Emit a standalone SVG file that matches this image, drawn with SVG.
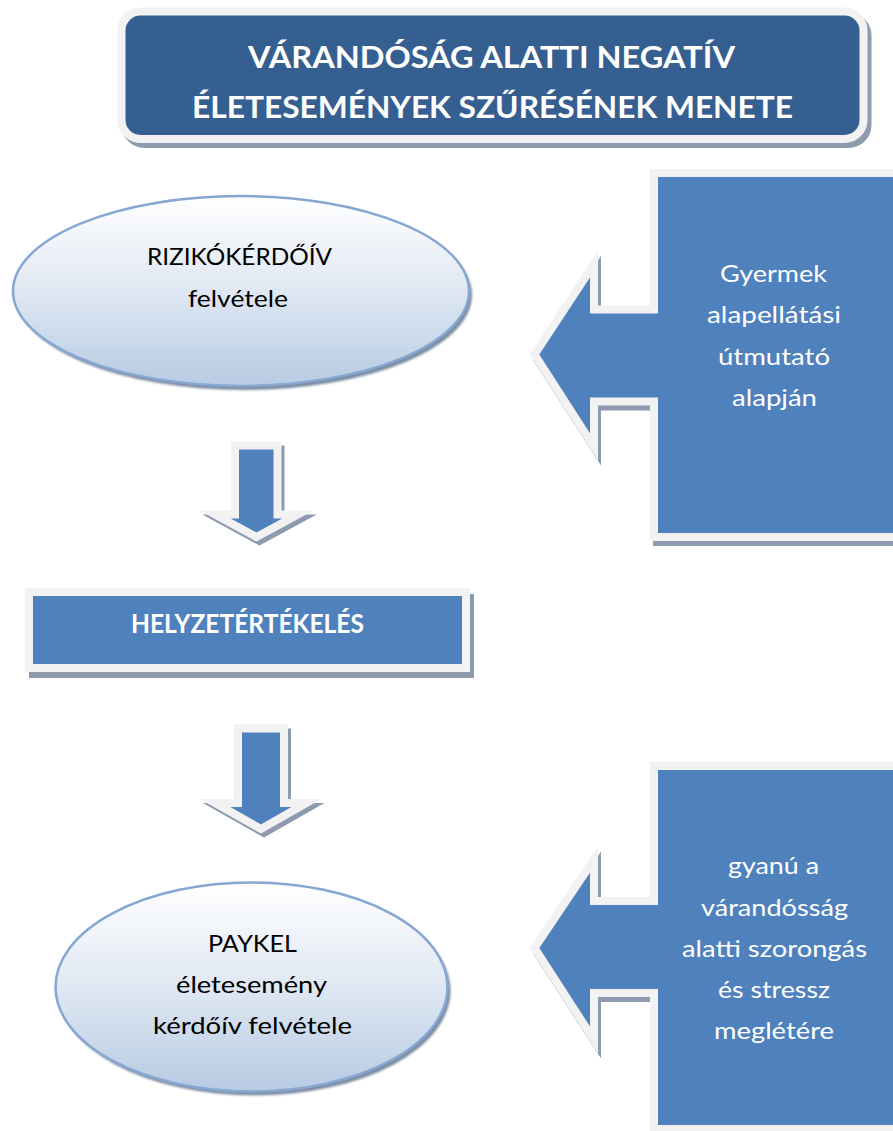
<svg xmlns="http://www.w3.org/2000/svg" width="893" height="1131" viewBox="0 0 893 1131">
<defs>
<linearGradient id="ellGrad" x1="0" y1="0" x2="0" y2="1">
<stop offset="0" stop-color="#FFFFFF"/>
<stop offset="0.45" stop-color="#E3EAF4"/>
<stop offset="1" stop-color="#B7CBE3"/>
</linearGradient>
<filter id="soft" x="-10%" y="-10%" width="120%" height="120%">
<feGaussianBlur stdDeviation="1.2"/>
</filter>
</defs>
<style>
.shadow{fill:#8E9BAE;stroke:#8E9BAE;stroke-width:8;stroke-linejoin:miter;stroke-miterlimit:10}
.blue{fill:#4F81BD;stroke:#F2F2F2;stroke-width:8;stroke-linejoin:miter;stroke-miterlimit:10}
.title{fill:#365F91;stroke:#F2F2F2;stroke-width:8}
.ell{fill:url(#ellGrad);stroke:#86A7D2;stroke-width:2.5}
.ellsh{fill:#7D8DA3;filter:url(#soft)}
.tw{font-family:Lato,"Liberation Sans",sans-serif;fill:#FFFFFF;text-anchor:middle}
.tb{font-family:Lato,"Liberation Sans",sans-serif;fill:#000000;text-anchor:middle}
.bold{font-weight:bold}
</style>

<g id="title">
<rect class="shadow" x="125.5" y="16.5" width="742" height="127.5" rx="19"/>
<rect class="title" x="121.5" y="11.5" width="742" height="127.5" rx="19"/>
<text class="tw bold" font-size="30" x="491.5" y="68" textLength="487" lengthAdjust="spacingAndGlyphs">VÁRANDÓSÁG ALATTI NEGATÍV</text>
<text class="tw bold" font-size="30" x="492.5" y="118" textLength="601" lengthAdjust="spacingAndGlyphs">ÉLETESEMÉNYEK SZŰRÉSÉNEK MENETE</text>
</g>

<g id="node-rizikokerdoiv">
<ellipse class="ellsh" cx="244" cy="295" rx="228" ry="95"/>
<ellipse class="ell" cx="241" cy="291" rx="228" ry="95"/>
<text class="tb" font-size="24" x="239.5" y="265" textLength="185" lengthAdjust="spacingAndGlyphs">RIZIKÓKÉRDŐÍV</text>
<text class="tb" font-size="24" x="238" y="307" textLength="100" lengthAdjust="spacingAndGlyphs">felvétele</text>
</g>

<g id="node-gyermek">
<path class="shadow" transform="translate(3,5)" d="M654,173 L900,173 L900,537 L654,537 L654,401.5 L594,401.5 L594,447 L534.5,354.5 L594,264 L594,309.5 L654,309.5 Z"/>
<path class="blue" d="M654,173 L900,173 L900,537 L654,537 L654,401.5 L594,401.5 L594,447 L534.5,354.5 L594,264 L594,309.5 L654,309.5 Z"/>
<text class="tw" font-size="24" x="773.5" y="281.5" textLength="107" lengthAdjust="spacingAndGlyphs">Gyermek</text>
<text class="tw" font-size="24" x="774" y="323" textLength="134" lengthAdjust="spacingAndGlyphs">alapellátási</text>
<text class="tw" font-size="24" x="774" y="364.5" textLength="112" lengthAdjust="spacingAndGlyphs">útmutató</text>
<text class="tw" font-size="24" x="774.5" y="406" textLength="85" lengthAdjust="spacingAndGlyphs">alapján</text>
</g>

<g id="node-helyzetertekeles">
<rect class="shadow" x="33" y="598" width="437" height="76"/>
<rect class="blue" x="29" y="592" width="437" height="76"/>
<text class="tw bold" font-size="26" x="247.5" y="633" textLength="233" lengthAdjust="spacingAndGlyphs">HELYZETÉRTÉKELÉS</text>
</g>

<g id="node-paykel">
<ellipse class="ellsh" cx="254.5" cy="991" rx="196" ry="104.5"/>
<ellipse class="ell" cx="251.5" cy="987" rx="196" ry="104.5"/>
<text class="tb" font-size="24" x="252.5" y="952" textLength="89" lengthAdjust="spacingAndGlyphs">PAYKEL</text>
<text class="tb" font-size="24" x="251.5" y="993" textLength="151" lengthAdjust="spacingAndGlyphs">életesemény</text>
<text class="tb" font-size="24" x="252.5" y="1034" textLength="199" lengthAdjust="spacingAndGlyphs">kérdőív felvétele</text>
</g>

<g id="node-gyanu">
<path class="shadow" transform="translate(3,5)" d="M654,766 L900,766 L900,1129 L654,1129 L654,993 L594,993 L594,1040 L534.5,948 L594,859.5 L594,901 L654,901 Z"/>
<path class="blue" d="M654,766 L900,766 L900,1129 L654,1129 L654,993 L594,993 L594,1040 L534.5,948 L594,859.5 L594,901 L654,901 Z"/>
<text class="tw" font-size="24" x="773.5" y="874" textLength="91" lengthAdjust="spacingAndGlyphs">gyanú a</text>
<text class="tw" font-size="24" x="774.5" y="916" textLength="147" lengthAdjust="spacingAndGlyphs">várandósság</text>
<text class="tw" font-size="24" x="774.5" y="957" textLength="185" lengthAdjust="spacingAndGlyphs">alatti szorongás</text>
<text class="tw" font-size="24" x="774" y="998" textLength="112" lengthAdjust="spacingAndGlyphs">és stressz</text>
<text class="tw" font-size="24" x="774" y="1039" textLength="120" lengthAdjust="spacingAndGlyphs">meglétére</text>
</g>

<g id="connectors">
<path class="shadow" transform="translate(3,4)" d="M235,445.5 L277.5,445.5 L277.5,514.5 L298,514.5 L256.5,537 L215,514.5 L235,514.5 Z"/>
<path class="blue" d="M235,445.5 L277.5,445.5 L277.5,514.5 L298,514.5 L256.5,537 L215,514.5 L235,514.5 Z"/>
<path class="shadow" transform="translate(3,4)" d="M238,728.5 L284,728.5 L284,803 L306.5,803 L261,829 L215,803 L238,803 Z"/>
<path class="blue" d="M238,728.5 L284,728.5 L284,803 L306.5,803 L261,829 L215,803 L238,803 Z"/>
</g>
</svg>
